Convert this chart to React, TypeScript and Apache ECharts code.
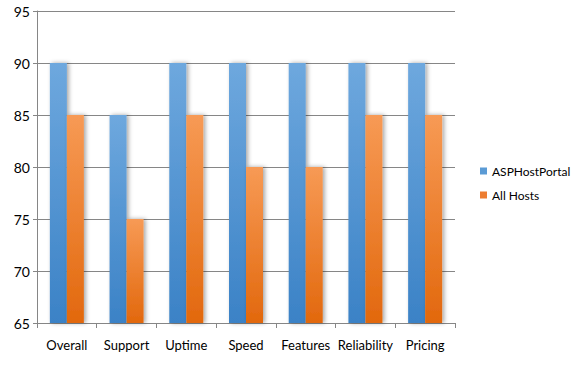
import React, { useEffect, useRef } from "react";
import * as echarts from "echarts";

const categories = ["Overall", "Support", "Uptime", "Speed", "Features", "Reliability", "Pricing"];
const aspHostPortal = [90, 85, 90, 90, 90, 90, 90];
const allHosts = [85, 75, 85, 80, 80, 85, 85];
const seriesNames = ["ASPHostPortal", "All Hosts"];

const FONT = "Lato, 'Open Sans', sans-serif";

export default function App() {
  const ref = useRef<HTMLDivElement>(null);
  useEffect(() => {
    if (!ref.current) return;
    const chart = echarts.init(ref.current, null, { renderer: "svg" });
    const grad = (top: string, bottom: string) =>
      new echarts.graphic.LinearGradient(0, 0, 0, 1, [
        { offset: 0, color: top },
        { offset: 1, color: bottom },
      ]);
    chart.setOption({
      animation: false,
      backgroundColor: "#ffffff",
      grid: { left: 37, right: 122, top: 11, bottom: 42, containLabel: false },
      legend: {
        orient: "vertical",
        left: 475,
        top: 160,
        itemWidth: 7,
        itemHeight: 7,
        itemGap: 12,
        icon: "rect",
        textStyle: { fontFamily: FONT, fontSize: 12, color: "#000" },
        data: [
          { name: seriesNames[0], itemStyle: { color: "#5b9bd5" } },
          { name: seriesNames[1], itemStyle: { color: "#ed7d31" } },
        ],
      },
      xAxis: {
        type: "category",
        data: categories,
        axisLine: { show: true, lineStyle: { color: "#868686" } },
        axisTick: { show: true, length: 5, alignWithLabel: false, lineStyle: { color: "#868686" } },
        axisLabel: { fontFamily: FONT, fontSize: 13, color: "#000", margin: 15, interval: 0 },
      },
      yAxis: {
        type: "value",
        min: 65,
        max: 95,
        interval: 5,
        axisLine: { show: true, lineStyle: { color: "#868686" } },
        axisTick: { show: true, length: 4, lineStyle: { color: "#868686" } },
        axisLabel: { fontFamily: FONT, fontSize: 14, color: "#000", margin: 7 },
        splitLine: { show: true, lineStyle: { color: "#868686", width: 1 } },
      },
      series: [
        {
          name: seriesNames[0],
          type: "bar",
          data: aspHostPortal,
          barWidth: 17,
          barGap: "0%",
          itemStyle: {
            color: grad("#6ea8de", "#3b82c6"),
            shadowColor: "rgba(0,0,0,0.35)",
            shadowBlur: 4,
            shadowOffsetX: 2,
          },
        },
        {
          name: seriesNames[1],
          type: "bar",
          data: allHosts,
          barWidth: 17,
          barGap: "0%",
          itemStyle: {
            color: grad("#f79a55", "#e2680d"),
            shadowColor: "rgba(0,0,0,0.35)",
            shadowBlur: 4,
            shadowOffsetX: 2,
          },
        },
      ],
    });
    return () => chart.dispose();
  }, []);
  return (
    <div
      ref={ref}
      style={{ position: "absolute", left: 0, top: 0, width: 577, height: 365 }}
    />
  );
}
